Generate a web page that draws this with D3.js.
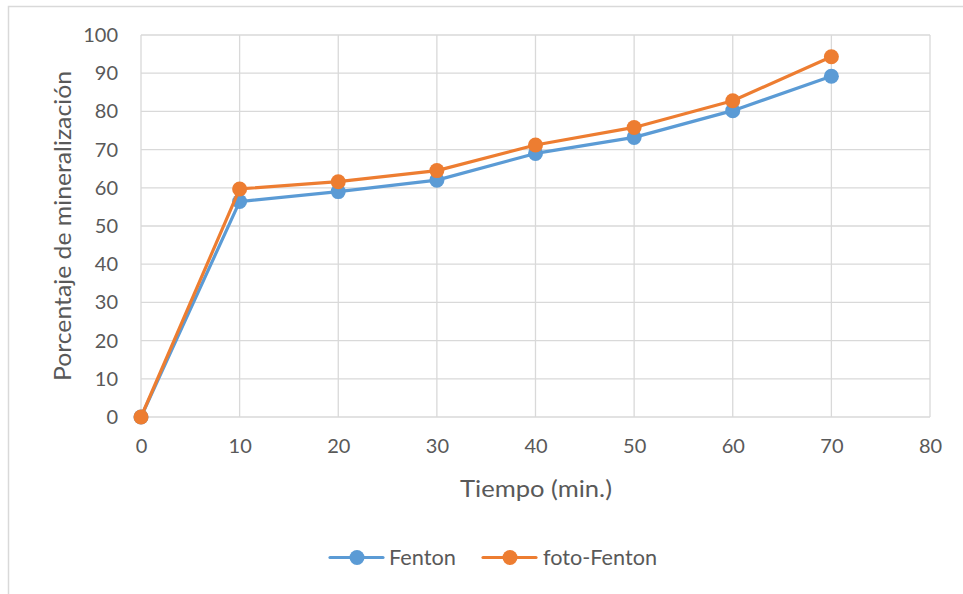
<!DOCTYPE html>
<html>
<head>
<meta charset="utf-8">
<script src="https://cdn.jsdelivr.net/npm/d3@7"></script>
<style>
  html, body { margin: 0; padding: 0; background: #fff; }
  svg { display: block; }
  text { font-family: Lato, "Open Sans", sans-serif; fill: #595959; }
</style>
</head>
<body>
<svg id="chart" width="963" height="594"></svg>
<script>
// Mineralization over time for the two processes
const tiempo = [0, 10, 20, 30, 40, 50, 60, 70];
const fenton = [0, 56.4, 59.0, 62.0, 69.0, 73.2, 80.2, 89.2];
const fotoFenton = [0, 59.7, 61.6, 64.5, 71.2, 75.8, 82.8, 94.3];
const xTicks = [0, 10, 20, 30, 40, 50, 60, 70, 80];
const yTicks = [0, 10, 20, 30, 40, 50, 60, 70, 80, 90, 100];
const seriesNames = ["Fenton", "foto-Fenton"];

const series = [
  { name: seriesNames[0], values: fenton, color: "#5B9BD5" },
  { name: seriesNames[1], values: fotoFenton, color: "#ED7D31" }
];

const svg = d3.select("#chart");

// chart frame
svg.append("rect")
  .attr("x", 8.5).attr("y", 6.5)
  .attr("width", 1000).attr("height", 700)
  .attr("fill", "none").attr("stroke", "#D9D9D9").attr("stroke-width", 1.5);

const plot = { left: 141, right: 930, top: 35, bottom: 417 };

const x = d3.scaleLinear().domain([0, 80]).range([plot.left, plot.right]);
const y = d3.scaleLinear().domain([0, 100]).range([plot.bottom, plot.top]);

// gridlines
const grid = svg.append("g");
grid.selectAll("line.h").data(yTicks).join("line")
  .attr("x1", plot.left).attr("x2", plot.right)
  .attr("y1", d => y(d)).attr("y2", d => y(d))
  .attr("stroke", "#D9D9D9").attr("stroke-width", 1.3);
grid.selectAll("line.v").data(xTicks).join("line")
  .attr("y1", plot.top).attr("y2", plot.bottom)
  .attr("x1", d => x(d)).attr("x2", d => x(d))
  .attr("stroke", "#D9D9D9").attr("stroke-width", 1.3);

// axes (labels only, Excel style)
const xAxis = svg.append("g")
  .attr("transform", `translate(0,${plot.bottom})`)
  .call(d3.axisBottom(x).tickValues(xTicks).tickSize(0).tickPadding(22));
const yAxis = svg.append("g")
  .attr("transform", `translate(${plot.left},0)`)
  .call(d3.axisLeft(y).tickValues(yTicks).tickSize(0).tickPadding(23));
[xAxis, yAxis].forEach(a => {
  a.select(".domain").remove();
  a.selectAll("text").attr("font-size", 20).attr("fill", "#595959")
    .style("font-family", "Lato, 'Open Sans', sans-serif");
});

// axis titles
svg.append("text")
  .attr("x", 536).attr("y", 497)
  .attr("text-anchor", "middle").attr("font-size", 24)
  .attr("textLength", 152).attr("lengthAdjust", "spacingAndGlyphs")
  .text("Tiempo (min.)");
svg.append("text")
  .attr("transform", "translate(71,226) rotate(-90)")
  .attr("text-anchor", "middle").attr("font-size", 24)
  .attr("textLength", 310).attr("lengthAdjust", "spacingAndGlyphs")
  .text("Porcentaje de mineralización");

// series lines and markers
const line = d3.line().x((d, i) => x(tiempo[i])).y(d => y(d));
series.forEach(s => {
  const g = svg.append("g");
  g.append("path")
    .datum(s.values)
    .attr("d", line)
    .attr("fill", "none")
    .attr("stroke", s.color)
    .attr("stroke-width", 3.2)
    .attr("stroke-linejoin", "round");
  g.selectAll("circle").data(s.values).join("circle")
    .attr("cx", (d, i) => x(tiempo[i]))
    .attr("cy", d => y(d))
    .attr("r", 7.5)
    .attr("fill", s.color);
});

// legend
const legend = svg.append("g");
const legendItems = [
  { x0: 330, tx: 389, w: 67 },
  { x0: 483, tx: 543, w: 114 }
];
series.forEach((s, i) => {
  const li = legendItems[i];
  const ly = 557.5;
  legend.append("line")
    .attr("x1", li.x0).attr("x2", li.x0 + 53)
    .attr("y1", ly).attr("y2", ly)
    .attr("stroke", s.color).attr("stroke-width", 3.2)
    .attr("stroke-linecap", "round");
  legend.append("circle")
    .attr("cx", li.x0 + 27).attr("cy", ly).attr("r", 7.5)
    .attr("fill", s.color);
  legend.append("text")
    .attr("x", li.tx).attr("y", ly + 7.5)
    .attr("font-size", 21.5)
    .attr("textLength", li.w).attr("lengthAdjust", "spacingAndGlyphs")
    .text(s.name);
});
</script>
</body>
</html>
